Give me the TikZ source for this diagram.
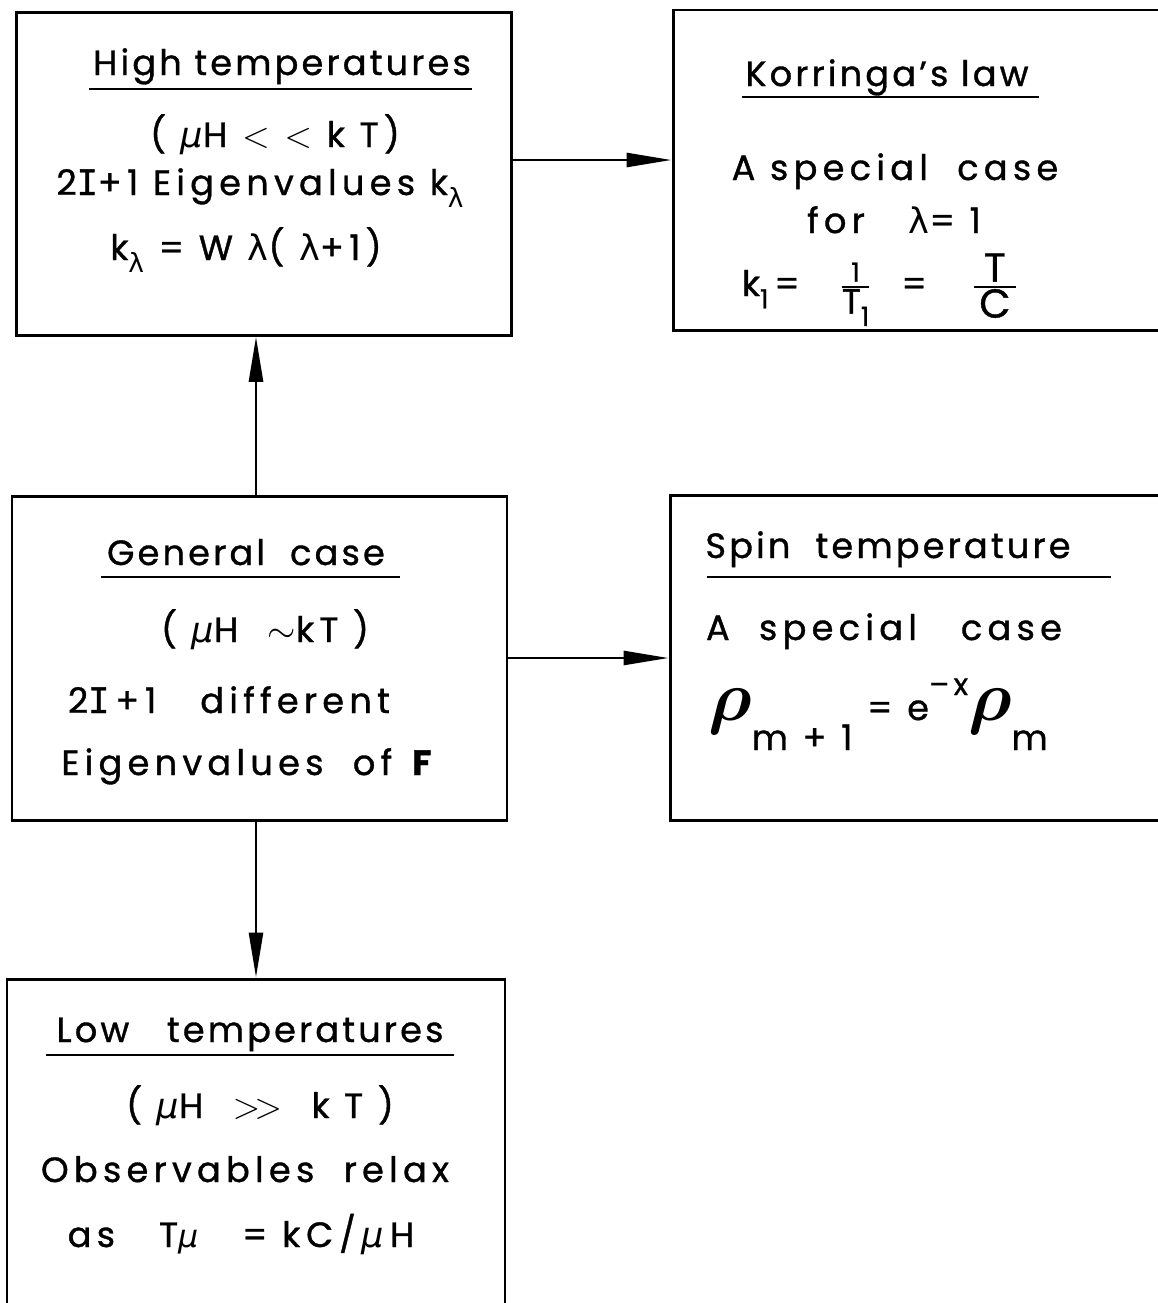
\documentclass[tikz,border=0pt]{standalone}
\usepackage{amsmath}
\usepackage{fontspec}
\setmainfont{Poppins}[LetterSpace=9, FakeBold=1]
\newfontfamily\grk{DejaVu Sans}
\newfontfamily\ifont{DejaVu Sans Mono}[FakeBold=1]
\usetikzlibrary{arrows.meta,positioning}
\newcommand{\lam}{{\grk λ}}
\newcommand{\mmu}{{\grk\itshape μ}}
\newcommand{\II}{{\ifont I}}
\newcommand{\dn}[1]{\raisebox{-0.35em}{\fontsize{15}{15}\selectfont #1}}
\newcommand{\bigrho}{\scalebox{1.95}{$\boldsymbol\rho$}}

\begin{document}
\begin{tikzpicture}[
  B/.style = {draw, line width=1.7pt, minimum width=9.9cm,
              minimum height=6.45cm, inner sep=0pt},
  lbl/.style = {anchor=base, inner sep=0pt,
                font=\fontsize{20}{24}\selectfont\addfontfeature{LetterSpace=15}},
  ttl/.style = {lbl, font=\fontsize{20}{24}\selectfont\addfontfeature{LetterSpace=9}},
  ul/.style = {line width=1.5pt},
  arr/.style = {-{Triangle[length=0.9cm,width=0.28cm]}, line width=1.5pt}
]
\useasboundingbox (0,0) rectangle (23.16,-26.06);

% Boxes: two columns, three rows (right column runs off the page)
\node[B] (HIGH) at ( 5.28, -3.48) {};
\node[B, minimum width=12cm, minimum height=6.4cm] (KORR) at (19.46, -3.40) {};
\node[B, minimum height=6.48cm] (GEN) at ( 5.19,-13.16) {};
\node[B, minimum width=12cm, minimum height=6.5cm] (SPIN) at (19.40,-13.15) {};
\node[B, minimum width=9.96cm, minimum height=6.82cm] (LOW) at ( 5.12,-22.99) {};

% High temperatures
\node[ttl] (HIGHt) at (5.64,-1.50) {High temperatures};
\node[lbl] (HIGHa) at (5.50,-2.94) {( \mmu H $<$ $<$ k T)};
\node[lbl] (HIGHb) at (5.20,-3.90) {2\II+1 Eigenvalues k\dn{\lam}};
\node[lbl] (HIGHc) at (4.92,-5.20) {k\dn{\lam} = W \lam( \lam +1)};

% Korringa's law
\node[ttl] (KORRt) at (17.74,-1.72) {Korringa’s law};
\node[lbl] (KORRa) at (17.90,-3.60) {A special~ case};
\node[lbl] (KORRb) at (17.88,-4.66) {for~~ \lam = 1};
\node[lbl] (KORRc) at (17.60,-5.92) {k\dn{1}\,=\hspace{0.8cm}$\frac{\hbox{\fontsize{15}{15}\selectfont 1}}{\hbox{T\dn{1}}}$\hspace{0.6cm}=\hspace{0.9cm}$\frac{\hbox to 0.84cm{\hfil\fontsize{23}{23}\selectfont T\hfil}}{\hbox{\fontsize{23}{23}\selectfont C}}$};

% General case
\node[ttl] (GENt) at (4.92,-11.30) {General~ case};
\node[lbl] (GENa) at (5.30,-12.84) {( \mmu H~ $\sim$kT )};
\node[lbl] (GENb) at (4.58,-14.26) {2\II\,+\,1~~ different};
\node[lbl] (GENc) at (4.98,-15.50) {Eigenvalues~ of \textbf{F}};

% Spin temperature
\node[ttl] (SPINt) at (17.76,-11.16) {Spin~ temperature};
\node[lbl] (SPINa) at (17.68,-12.80) {A~ special~~ case};
\node[lbl] (SPINb) at (17.56,-14.40) {\bigrho\raisebox{-0.6cm}{m + 1} = e\raisebox{0.5cm}{\fontsize{17}{17}\selectfont --x}\bigrho\raisebox{-0.6cm}{m}};

% Low temperatures
\node[ttl] (LOWt) at (5.00,-20.84) {Low~~ temperatures};
\node[lbl] (LOWa) at (5.20,-22.36) {(~\mmu H~ $>\!>$~ k T~)};
\node[lbl] (LOWb) at (4.90,-23.64) {Observables~ relax};
\node[lbl] (LOWc) at (4.82,-24.94) {as~~ T{\fontsize{18}{18}\selectfont\mmu}~~ = k\,C\,/\,\mmu\,H};

% Underlined titles
\draw[ul] ([shift={(-0.08,-0.28)}]HIGHt.base west) -- ([shift={(0.02,-0.28)}]HIGHt.base east);
\draw[ul] ([shift={(-0.06,-0.22)}]KORRt.base west) -- ([shift={(0.20,-0.22)}]KORRt.base east);
\draw[ul] ([shift={(-0.12,-0.24)}]GENt.base west) -- ([shift={(0.30,-0.24)}]GENt.base east);
\draw[ul] ([shift={(0.04,-0.38)}]SPINt.base west) -- ([shift={(0.80,-0.38)}]SPINt.base east);
\draw[ul] ([shift={(-0.20,-0.26)}]LOWt.base west) -- ([shift={(0.20,-0.26)}]LOWt.base east);

% Connectors
\draw[arr] ([yshift=0.28cm]HIGH.east) -- ([yshift=0.28cm]HIGH.east -| KORR.west);
\draw[arr] ([xshift=-0.07cm]GEN.north) -- ([xshift=-0.07cm]GEN.north |- HIGH.south);
\draw[arr] (GEN.east) -- (GEN.east -| SPIN.west);
\draw[arr] ([xshift=-0.07cm]GEN.south) -- ([xshift=-0.07cm]GEN.south |- LOW.north);

\end{tikzpicture}
\end{document}
